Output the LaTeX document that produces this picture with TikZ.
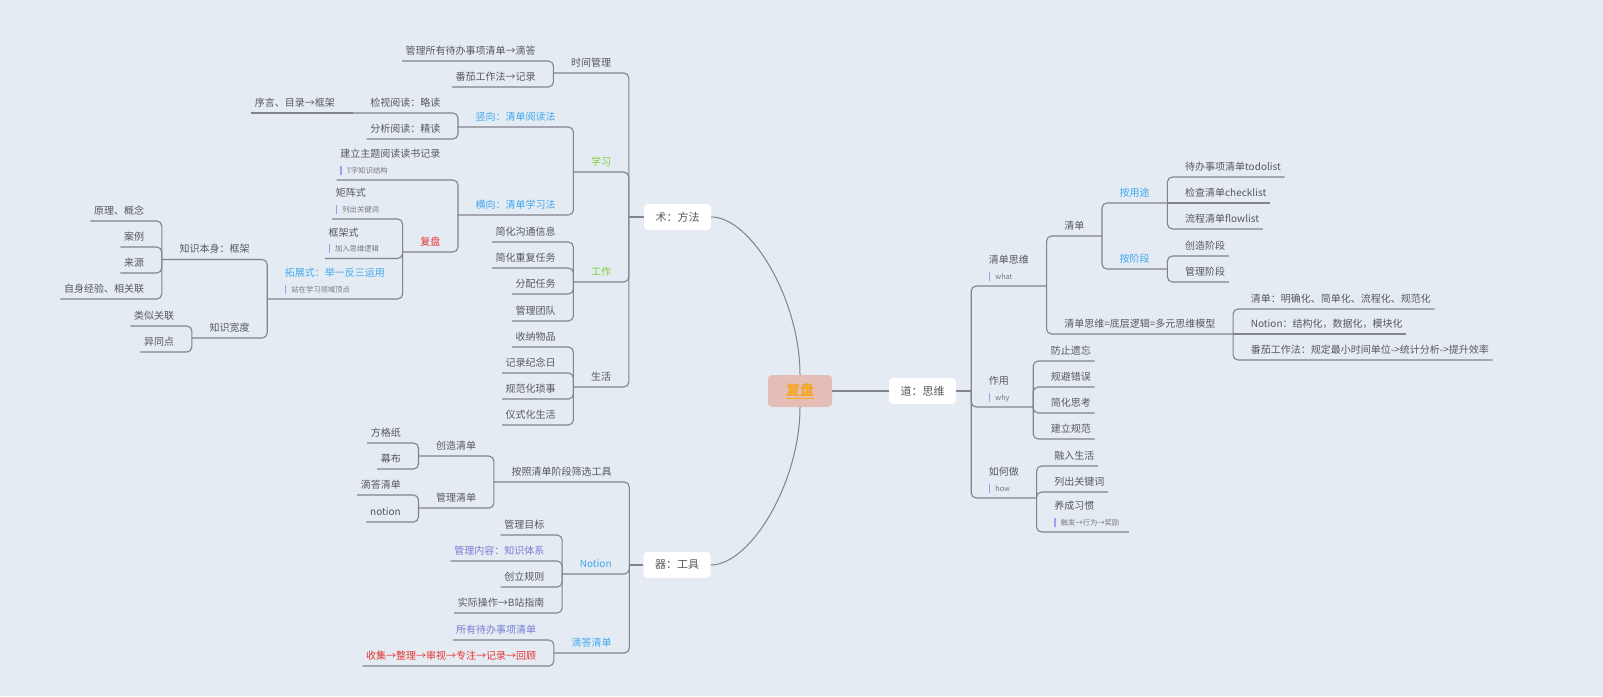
\documentclass[tikz,border=0pt]{standalone}
\usepackage{fontspec}
\setmainfont{Noto Sans CJK SC}
\usetikzlibrary{positioning}
\definecolor{bgcol}{RGB}{228,235,242}
\definecolor{linegray}{RGB}{130,131,140}
\definecolor{textgray}{RGB}{88,88,92}
\definecolor{topicblue}{RGB}{64,168,240}
\definecolor{topicgreen}{RGB}{126,208,58}
\definecolor{topicred}{RGB}{228,52,48}
\definecolor{topicpurple}{RGB}{120,124,214}
\definecolor{notebar}{RGB}{160,160,240}
\definecolor{notegray}{RGB}{120,120,126}
\definecolor{rootpink}{RGB}{228,190,182}
\definecolor{rootorange}{RGB}{245,166,35}

\newcommand{\nte}[1]{\\{\fontsize{7.3}{9}\selectfont\textcolor{notebar}{\rule[-1.5pt]{1.5pt}{9pt}}\kern5pt\textcolor{notegray}{#1}\kern6pt}}

\tikzset{
  link/.style={draw=linegray, line width=1.1pt, rounded corners=5pt},
  topic/.style={font=\fontsize{10}{15.5}\selectfont, text=textgray, align=left, inner ysep=5pt, text depth=1.5pt},
  noted/.style={text depth=},
  leaf/.style={topic, inner xsep=3.5pt},
  branch/.style={topic, inner xsep=17.5pt},
  lleaf/.style={leaf, anchor=south east, xshift=-14pt},
  rleaf/.style={leaf, anchor=south west, xshift=14pt},
  lbranch/.style={branch, anchor=south east},
  rbranch/.style={branch, anchor=south west},
  mainbox/.style={fill=white, rounded corners=4pt, minimum width=67pt, minimum height=26pt, text=textgray, font=\fontsize{11}{13}\selectfont},
  rootbox/.style={fill=rootpink, rounded corners=4pt, minimum width=64pt, minimum height=32pt, text=rootorange, font=\bfseries\fontsize{14}{16}\selectfont}
}

\begin{document}
\begin{tikzpicture}[x=1pt, y=-1pt]
\path[use as bounding box, fill=bgcol] (0,0) rectangle (1603,696);

% centre
\node[rootbox] (root) at (800,391) {\underline{复盘}};
\node[mainbox] (fa) at (677.5,217) {术：方法};
\node[mainbox] (gj) at (677,565) {器：工具};
\node[mainbox] (ds) at (922.5,391) {道：思维};
\draw[link, line width=1pt] (root.north) .. controls +(0,-75) and +(40,0) .. (fa.east);
\draw[link, line width=1pt] (root.south) .. controls +(0,75) and +(40,0) .. (gj.east);
\draw[link] (root.east) -- (ds.west);
\coordinate[left=15pt of fa] (fat);
\coordinate[left=14pt of gj] (gjt);
\coordinate[right=15pt of ds] (dst);
\draw[link] (fa.west) -- (fat);
\draw[link] (gj.west) -- (gjt);
\draw[link] (ds.east) -- (dst);

% shu: fangfa
\node[lbranch] (sjgl) at (fat |- 0,73) {时间管理};
\node[lleaf] (gl1) at (sjgl.south west |- 0,61) {管理所有待办事项清单→滴答};
\node[lleaf] (gl2) at (sjgl.south west |- 0,87) {番茄工作法→记录};

\node[lbranch, text=topicgreen] (xx) at (fat |- 0,172) {学习};
\node[lbranch, text=topicblue] (sx) at (xx.south west |- 0,127) {竖向：清单阅读法};
\node[lbranch] (jsyd) at (sx.south west |- 0,113) {检视阅读：略读};
\node[lleaf] (xymu) at (jsyd.south west |- 0,113) {序言、目录→框架};
\node[lleaf] (fxyd) at (sx.south west |- 0,139) {分析阅读：精读};
\node[lbranch, text=topicblue] (hx) at (xx.south west |- 0,215) {横向：清单学习法};
\node[lleaf, noted] (jlzt) at (hx.south west |- 0,180) {建立主题阅读读书记录\nte{T字知识结构}};
\node[lbranch, text=topicred] (fp) at (hx.south west |- 0,252) {复盘};
\node[lleaf, noted] (jzs) at (fp.south west |- 0,219) {矩阵式\nte{列出关键词}};
\node[lleaf, noted] (kjs) at (fp.south west |- 0,258.5) {框架式\nte{加入思维逻辑}};
\node[lbranch, noted, text=topicblue] (tzs) at (fp.south west |- 0,299) {拓展式：举一反三运用\nte{站在学习领域顶点}};
\node[lbranch] (zsbs) at (tzs.south west |- 0,259.5) {知识本身：框架};
\node[lleaf] (ylgn) at (zsbs.south west |- 0,221) {原理、概念};
\node[lleaf] (al) at (zsbs.south west |- 0,247) {案例};
\node[lleaf] (ly) at (zsbs.south west |- 0,273) {来源};
\node[lleaf] (zsjy) at (zsbs.south west |- 0,299) {自身经验、相关联};
\node[lbranch] (zskd) at (tzs.south west |- 0,338) {知识宽度};
\node[lleaf] (lsgl) at (zskd.south west |- 0,326) {类似关联};
\node[lleaf] (ytd) at (zskd.south west |- 0,352) {异同点};

\node[lbranch, text=topicgreen] (gz) at (fat |- 0,282) {工作};
\node[lleaf] (gz1) at (gz.south west |- 0,242) {简化沟通信息};
\node[lleaf] (gz2) at (gz.south west |- 0,268) {简化重复任务};
\node[lleaf] (gz3) at (gz.south west |- 0,294) {分配任务};
\node[lleaf] (gz4) at (gz.south west |- 0,321) {管理团队};

\node[lbranch] (sh) at (fat |- 0,387) {生活};
\node[lleaf] (sh1) at (sh.south west |- 0,347) {收纳物品};
\node[lleaf] (sh2) at (sh.south west |- 0,373) {记录纪念日};
\node[lleaf] (sh3) at (sh.south west |- 0,399) {规范化琐事};
\node[lleaf] (sh4) at (sh.south west |- 0,425) {仪式化生活};

\draw[link] (fat) |- (sjgl.south west);
\draw[link] (sjgl.south west) |- (gl1.south west);
\draw[link] (sjgl.south west) |- (gl2.south west);
\draw[link] (fat) |- (xx.south west);
\draw[link] (xx.south west) |- (sx.south west);
\draw[link] (sx.south west) |- (jsyd.south west);
\draw[link] (jsyd.south west) -- (xymu.south west);
\draw[link] (sx.south west) |- (fxyd.south west);
\draw[link] (xx.south west) |- (hx.south west);
\draw[link] (hx.south west) |- (jlzt.south west);
\draw[link] (hx.south west) |- (fp.south west);
\draw[link] (fp.south west) |- (jzs.south west);
\draw[link] (fp.south west) |- (kjs.south west);
\draw[link] (fp.south west) |- (tzs.south west);
\draw[link] (tzs.south west) |- (zsbs.south west);
\draw[link] (zsbs.south west) |- (ylgn.south west);
\draw[link] (zsbs.south west) |- (al.south west);
\draw[link] (zsbs.south west) |- (ly.south west);
\draw[link] (zsbs.south west) |- (zsjy.south west);
\draw[link] (tzs.south west) |- (zskd.south west);
\draw[link] (zskd.south west) |- (lsgl.south west);
\draw[link] (zskd.south west) |- (ytd.south west);
\draw[link] (fat) |- (gz.south west);
\draw[link] (gz.south west) |- (gz1.south west);
\draw[link] (gz.south west) |- (gz2.south west);
\draw[link] (gz.south west) |- (gz3.south west);
\draw[link] (gz.south west) |- (gz4.south west);
\draw[link] (fat) |- (sh.south west);
\draw[link] (sh.south west) |- (sh1.south west);
\draw[link] (sh.south west) |- (sh2.south west);
\draw[link] (sh.south west) |- (sh3.south west);
\draw[link] (sh.south west) |- (sh4.south west);

% qi: gongju
\node[lbranch] (azjd) at (gjt |- 0,482) {按照清单阶段筛选工具};
\node[lbranch] (czqd) at (azjd.south west |- 0,456) {创造清单};
\node[lleaf] (fgz) at (czqd.south west |- 0,443) {方格纸};
\node[lleaf] (mb) at (czqd.south west |- 0,469) {幕布};
\node[lbranch] (glqd) at (azjd.south west |- 0,508) {管理清单};
\node[lleaf] (ddqd) at (glqd.south west |- 0,495) {滴答清单};
\node[lleaf] (notion) at (glqd.south west |- 0,522) {notion};
\node[lbranch, text=topicblue] (nt) at (gjt |- 0,574) {Notion};
\node[lleaf] (glmb) at (nt.south west |- 0,535) {管理目标};
\node[lleaf, text=topicpurple] (glnr) at (nt.south west |- 0,561) {管理内容：知识体系};
\node[lleaf] (clgz) at (nt.south west |- 0,587) {创立规则};
\node[lleaf] (sjcz) at (nt.south west |- 0,613) {实际操作→B站指南};
\node[lbranch, text=topicblue] (dd) at (gjt |- 0,653) {滴答清单};
\node[lleaf, text=topicpurple] (syqd) at (dd.south west |- 0,640) {所有待办事项清单};
\node[lleaf, text=topicred] (sjlc) at (dd.south west |- 0,666) {收集→整理→审视→专注→记录→回顾};

\draw[link] (gjt) |- (azjd.south west);
\draw[link] (azjd.south west) |- (czqd.south west);
\draw[link] (czqd.south west) |- (fgz.south west);
\draw[link] (czqd.south west) |- (mb.south west);
\draw[link] (azjd.south west) |- (glqd.south west);
\draw[link] (glqd.south west) |- (ddqd.south west);
\draw[link] (glqd.south west) |- (notion.south west);
\draw[link] (gjt) |- (nt.south west);
\draw[link] (nt.south west) |- (glmb.south west);
\draw[link] (nt.south west) |- (glnr.south west);
\draw[link] (nt.south west) |- (clgz.south west);
\draw[link] (nt.south west) |- (sjcz.south west);
\draw[link] (gjt) |- (dd.south west);
\draw[link] (dd.south west) |- (syqd.south west);
\draw[link] (dd.south west) |- (sjlc.south west);

% dao: siwei
\node[rbranch, noted] (qdsw) at (dst |- 0,286) {清单思维\nte{what}};
\node[rbranch] (qd) at (qdsw.south east |- 0,236) {清单};
\node[rbranch, text=topicblue] (ayt) at (qd.south east |- 0,203) {按用途};
\node[rleaf] (todo) at (ayt.south east |- 0,177) {待办事项清单todolist};
\node[rleaf] (check) at (ayt.south east |- 0,203) {检查清单checklist};
\node[rleaf] (flow) at (ayt.south east |- 0,229) {流程清单flowlist};
\node[rbranch, text=topicblue] (ajd) at (qd.south east |- 0,269) {按阶段};
\node[rleaf] (czjd) at (ajd.south east |- 0,256) {创造阶段};
\node[rleaf] (gljd) at (ajd.south east |- 0,282) {管理阶段};
\node[rbranch] (dcl) at (qdsw.south east |- 0,334) {清单思维=底层逻辑=多元思维模型};
\node[rleaf] (mqh) at (dcl.south east |- 0,309) {清单：明确化、简单化、流程化、规范化};
\node[rleaf] (jgh) at (dcl.south east |- 0,334) {Notion：结构化，数据化，模块化};
\node[rleaf] (fqgz) at (dcl.south east |- 0,360) {番茄工作法：规定最小时间单位->统计分析->提升效率};

\node[rbranch, noted] (zy) at (dst |- 0,407) {作用\nte{why}};
\node[rleaf] (zy1) at (zy.south east |- 0,361) {防止遗忘};
\node[rleaf] (zy2) at (zy.south east |- 0,387) {规避错误};
\node[rleaf] (zy3) at (zy.south east |- 0,413) {简化思考};
\node[rleaf] (zy4) at (zy.south east |- 0,439) {建立规范};

\node[rbranch, noted] (rhz) at (dst |- 0,498) {如何做\nte{how}};
\node[rleaf] (rrsh) at (rhz.south east |- 0,466) {融入生活};
\node[rleaf] (lcgj) at (rhz.south east |- 0,492) {列出关键词};
\node[rleaf, noted] (ycxg) at (rhz.south east |- 0,532) {养成习惯\nte{触发→行为→奖励}};

\draw[link] (dst) |- (qdsw.south east);
\draw[link] (qdsw.south east) |- (qd.south east);
\draw[link] (qd.south east) |- (ayt.south east);
\draw[link] (ayt.south east) |- (todo.south east);
\draw[link] (ayt.south east) -- (check.south east);
\draw[link] (ayt.south east) |- (flow.south east);
\draw[link] (qd.south east) |- (ajd.south east);
\draw[link] (ajd.south east) |- (czjd.south east);
\draw[link] (ajd.south east) |- (gljd.south east);
\draw[link] (qdsw.south east) |- (dcl.south east);
\draw[link] (dcl.south east) |- (mqh.south east);
\draw[link] (dcl.south east) -- (jgh.south east);
\draw[link] (dcl.south east) |- (fqgz.south east);
\draw[link] (dst) |- (zy.south east);
\draw[link] (zy.south east) |- (zy1.south east);
\draw[link] (zy.south east) |- (zy2.south east);
\draw[link] (zy.south east) |- (zy3.south east);
\draw[link] (zy.south east) |- (zy4.south east);
\draw[link] (dst) |- (rhz.south east);
\draw[link] (rhz.south east) |- (rrsh.south east);
\draw[link] (rhz.south east) |- (lcgj.south east);
\draw[link] (rhz.south east) |- (ycxg.south east);
\end{tikzpicture}
\end{document}
